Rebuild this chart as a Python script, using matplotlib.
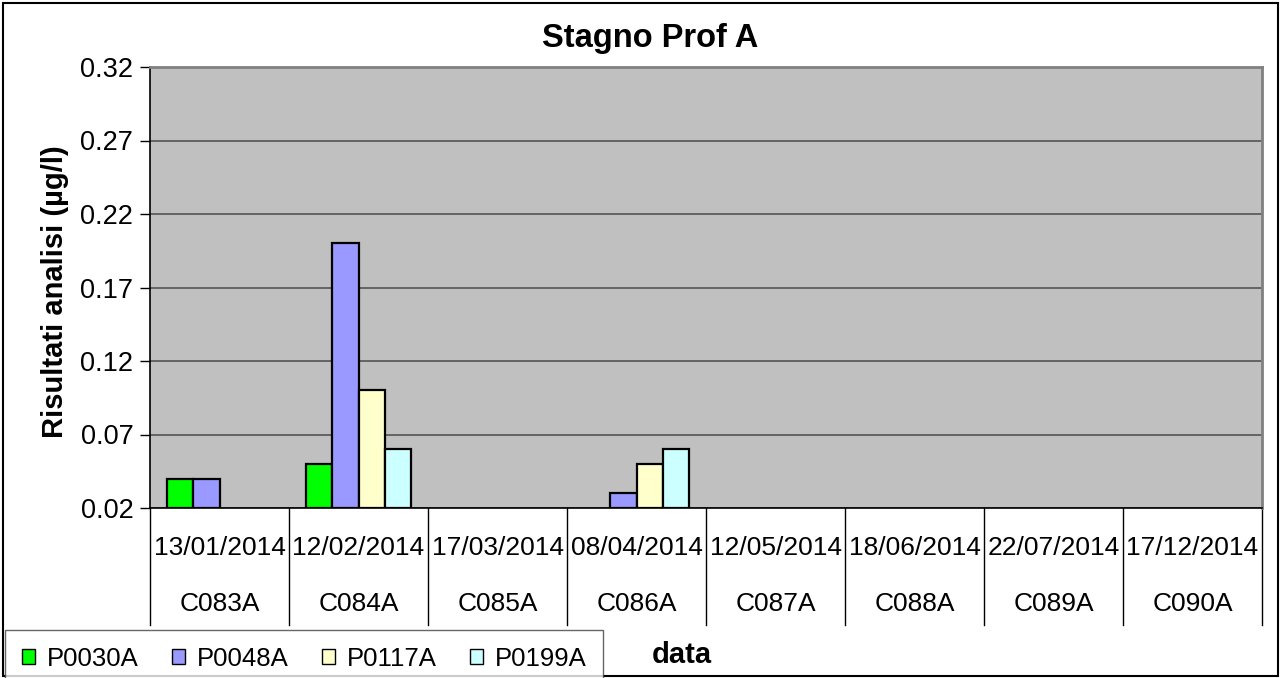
import matplotlib.pyplot as plt
import numpy as np
from matplotlib.patches import Rectangle

plt.rcParams['font.family'] = ['Liberation Sans', 'DejaVu Sans']

dates = ['13/01/2014', '12/02/2014', '17/03/2014', '08/04/2014',
         '12/05/2014', '18/06/2014', '22/07/2014', '17/12/2014']
codes = ['C083A', 'C084A', 'C085A', 'C086A', 'C087A', 'C088A', 'C089A', 'C090A']
series = ['P0030A', 'P0048A', 'P0117A', 'P0199A']
nan = np.nan
p0030a = [0.04, 0.05, nan, nan, nan, nan, nan, nan]
p0048a = [0.04, 0.20, nan, 0.03, nan, nan, nan, nan]
p0117a = [nan, 0.10, nan, 0.05, nan, nan, nan, nan]
p0199a = [nan, 0.06, nan, 0.06, nan, nan, nan, nan]
colors = ['#00FF00', '#9999FF', '#FFFFCC', '#CCFFFF']

W, H = 1281, 678
fig = plt.figure(figsize=(W / 100, H / 100), dpi=100)
ax = fig.add_axes([150 / W, (H - 508) / H, (1262 - 150) / W, (508 - 67) / H])
ax.set_facecolor('#C0C0C0')

base = 0.02
x = np.arange(len(codes))
bw = 0.1875
handles = []
for i, (vals, c) in enumerate(zip([p0030a, p0048a, p0117a, p0199a], colors)):
    v = np.array(vals)
    b = ax.bar(x + (i - 1.5) * bw, v - base, bw, bottom=base, color=c,
               edgecolor='black', linewidth=1.6, zorder=3)
    handles.append(b)

ax.set_xlim(-0.5, len(codes) - 0.5)
ax.set_ylim(0.02, 0.32)
yt = np.arange(0.02, 0.321, 0.05)
ax.set_yticks(yt)
ax.set_yticklabels(['%.2f' % t for t in yt])
ax.yaxis.grid(True, color='#555555', linewidth=1.2, zorder=1)
ax.set_axisbelow(True)
ax.set_xticks([])
ax.tick_params(axis='y', labelsize=19.5, length=7, width=1, direction='out', pad=5)
for s in ['top', 'right']:
    ax.spines[s].set_color('#808080')
    ax.spines[s].set_linewidth(2)
for s in ['left', 'bottom']:
    ax.spines[s].set_color('black')
    ax.spines[s].set_linewidth(1.2)

# category table under the axis
tr = ax.get_xaxis_transform()
for k in range(len(codes) + 1):
    ax.plot([k - 0.5, k - 0.5], [0, -(625 - 508) / (508 - 67)], transform=tr,
            color='black', linewidth=1, clip_on=False)
for k in range(len(codes)):
    ax.text(k, -(548 - 508) / (508 - 67), dates[k], transform=tr, ha='center',
            va='center', fontsize=19)
    ax.text(k, -(604 - 508) / (508 - 67), codes[k], transform=tr, ha='center',
            va='center', fontsize=19)

fig.text(650 / W, 1 - 38 / H, 'Stagno Prof A', ha='center', va='center',
         fontsize=23.5, fontweight='bold')
fig.text(55 / W, 1 - 292 / H, 'Risultati analisi (µg/l)', ha='center',
         va='center', rotation=90, fontsize=21, fontweight='bold')
fig.text(682 / W, 1 - 655 / H, 'data', ha='center', va='center',
         fontsize=21, fontweight='bold')

leg = fig.legend(handles, series, ncol=4, loc='upper left',
                 bbox_to_anchor=(5 / W, 1 - 630 / H),
                 fontsize=18.5, frameon=True, fancybox=False,
                 handlelength=0.52, handleheight=0.52, handletextpad=0.45,
                 columnspacing=1.3, borderaxespad=0, borderpad=0.65)
leg.get_frame().set_edgecolor('#404040')
leg.get_frame().set_linewidth(1)
for h in leg.legend_handles:
    h.set_linewidth(1)

fig.patches.append(Rectangle((3 / W, 2 / H), (1278 - 3) / W, (675 - 2) / H,
                             transform=fig.transFigure, fill=False,
                             edgecolor='black', linewidth=1.5))

fig.savefig('out.png', dpi=100)
